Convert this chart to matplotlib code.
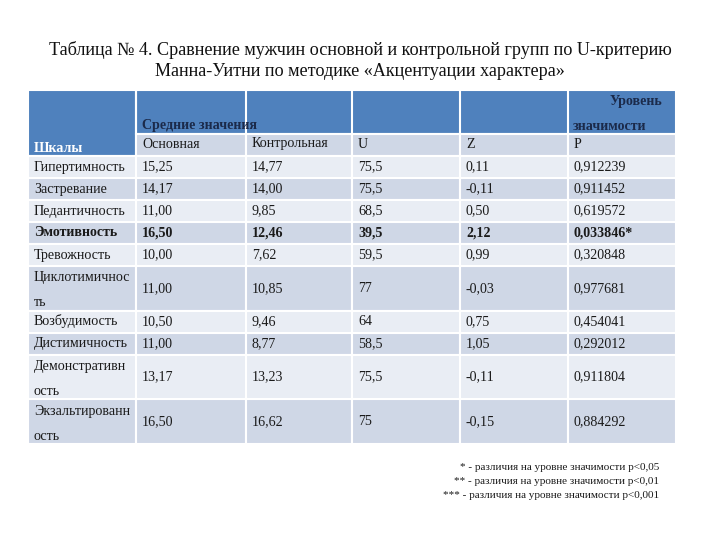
import matplotlib.pyplot as plt
from matplotlib.patches import Rectangle

plt.rcParams['font.family'] = ['Liberation Serif', 'DejaVu Serif']

# table data
scales = ["Гипертимность", "Застревание", "Педантичность", "Эмотивность",
          "Тревожность", "Циклотимичнос\nть", "Возбудимость", "Дистимичность",
          "Демонстративн\nость", "Экзальтированн\nость"]
mean_main = ["15,25", "14,17", "11,00", "16,50", "10,00", "11,00", "10,50", "11,00", "13,17", "16,50"]
mean_ctrl = ["14,77", "14,00", "9,85", "12,46", "7,62", "10,85", "9,46", "8,77", "13,23", "16,62"]
u_vals = ["75,5", "75,5", "68,5", "39,5", "59,5", "77", "64", "58,5", "75,5", "75"]
z_vals = ["0,11", "-0,11", "0,50", "2,12", "0,99", "-0,03", "0,75", "1,05", "-0,11", "-0,15"]
p_vals = ["0,912239", "0,911452", "0,619572", "0,033846*", "0,320848", "0,977681",
          "0,454041", "0,292012", "0,911804", "0,884292"]
sub_head = ["Основная", "Контрольная", "U", "Z", "P"]
bold_rows = [3]
notes = ["* - различия на уровне значимости p<0,05",
         "** - различия на уровне значимости p<0,01",
         "*** - различия на уровне значимости p<0,001"]

fig = plt.figure(figsize=(7.2, 5.4), dpi=100)
ax = fig.add_axes([0, 0, 1, 1])
ax.set_xlim(0, 720)
ax.set_ylim(540, 0)
ax.axis('off')

blue = '#4f81bd'
dark = '#cfd7e6'
light = '#e9edf4'
txt = '#1a1a1a'
cols = [28, 136, 246, 352, 460, 568, 676]
fs = 10.1

ax.text(360, 50, "Таблица № 4. Сравнение мужчин основной и контрольной групп по U-критерию",
        ha='center', va='center', fontsize=13.1, color='#111')
ax.text(360, 72, "Манна-Уитни по методике «Акцентуации характера»",
        ha='center', va='center', fontsize=13.1, color='#111')

# header
ax.add_patch(Rectangle((cols[0], 90), cols[-1] - cols[0], 44, fc=blue, ec='white', lw=1.5))
for x in cols[1:-1]:
    ax.plot([x, x], [90, 134], color='white', lw=1.5)
ax.add_patch(Rectangle((cols[0], 90), cols[1] - cols[0], 66, fc=blue, ec='white', lw=1.5))
ax.text(34, 148, "Шкалы", ha='left', va='center', fontsize=fs, color='white', fontweight='bold')
ax.text(142, 126, "Средние значения", ha='left', va='center', fontsize=fs, color='#1b2a4a', fontweight='bold')
ax.text(662, 102, "Уровень", ha='right', va='center', fontsize=fs, color='#1b2a4a', fontweight='bold')
ax.text(573, 127, "значимости", ha='left', va='center', fontsize=fs, color='#1b2a4a', fontweight='bold')

for i, s in enumerate(sub_head):
    x0 = cols[i + 1]
    ax.add_patch(Rectangle((x0, 134), cols[i + 2] - x0, 22, fc=dark, ec='white', lw=1.5))
    ax.text(x0 + 6, 144, s, ha='left', va='center', fontsize=fs, color=txt)

# body
y = 156
for r in range(len(scales)):
    h = 44.5 if "\n" in scales[r] else 22
    fc = light if r % 2 == 0 else dark
    row = [scales[r], mean_main[r], mean_ctrl[r], u_vals[r], z_vals[r], p_vals[r]]
    fw = 'bold' if r in bold_rows else 'normal'
    for c in range(6):
        ax.add_patch(Rectangle((cols[c], y), cols[c + 1] - cols[c], h, fc=fc, ec='white', lw=1.5))
        if c == 0 and "\n" in row[c]:
            a, b = row[c].split("\n")
            ax.text(cols[c] + 6, y + 12, a, ha='left', va='center', fontsize=fs, color=txt, fontweight=fw)
            ax.text(cols[c] + 6, y + 37, b, ha='left', va='center', fontsize=fs, color=txt, fontweight=fw)
        else:
            ax.text(cols[c] + 6, y + h / 2, row[c], ha='left', va='center', fontsize=fs, color=txt, fontweight=fw)
    y += h

for i, n in enumerate(notes):
    ax.text(659, 467 + i * 14.5, n, ha='right', va='center', fontsize=8, color=txt)

fig.savefig('out.png', dpi=100)
